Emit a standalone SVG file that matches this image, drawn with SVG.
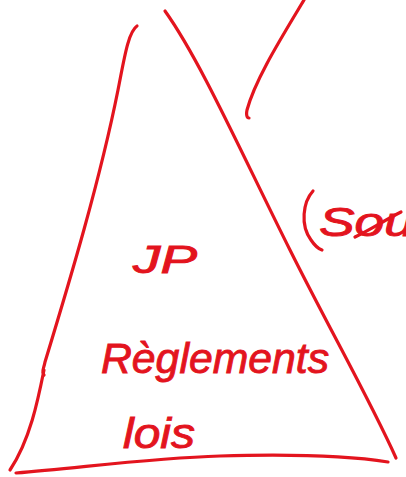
<svg xmlns="http://www.w3.org/2000/svg" width="406" height="477" viewBox="0 0 406 477">
<style>
.s{fill:none;stroke:#e3141e;stroke-width:3.2;stroke-linecap:round;stroke-linejoin:round}
.t{fill:#e3141e;stroke:#e3141e;stroke-width:0.9;font-family:"Liberation Sans",Arial,sans-serif;font-style:italic}
</style>
<rect width="406" height="477" fill="#fff"/>
<g id="triangle">
<path class="s" d="M137,26 C128,32 124,60 118,90 C100,180 70,280 45,362 C44,368 41,372 44,375 M44,370 C38,400 30,440 10,470"/>
<path class="s" d="M165,11 C200,60 240,150 290,250 C330,330 370,400 396,458"/>
<path class="s" d="M16,473 C80,468 150,458 220,456 C290,454 350,456 388,462"/>
</g>
<path class="s" d="M304,0 C280,40 255,80 247,110 C246,115 247,118 249,118"/>
<path class="s" d="M313,191 C303,202 300,225 311,240 C315,246 319,249 322,250"/>
<path class="s" d="M355,237 C370,230 385,220 401,212"/>
<text class="t" x="133" y="273" font-size="38" textLength="64" lengthAdjust="spacingAndGlyphs">JP</text>
<text class="t" x="101" y="373" font-size="42" textLength="228" lengthAdjust="spacingAndGlyphs">Règlements</text>
<text class="t" x="123" y="448" font-size="42" textLength="72" lengthAdjust="spacingAndGlyphs">lois</text>
<text class="t" x="319" y="236" font-size="40" textLength="95" lengthAdjust="spacingAndGlyphs">Sou</text>
</svg>
